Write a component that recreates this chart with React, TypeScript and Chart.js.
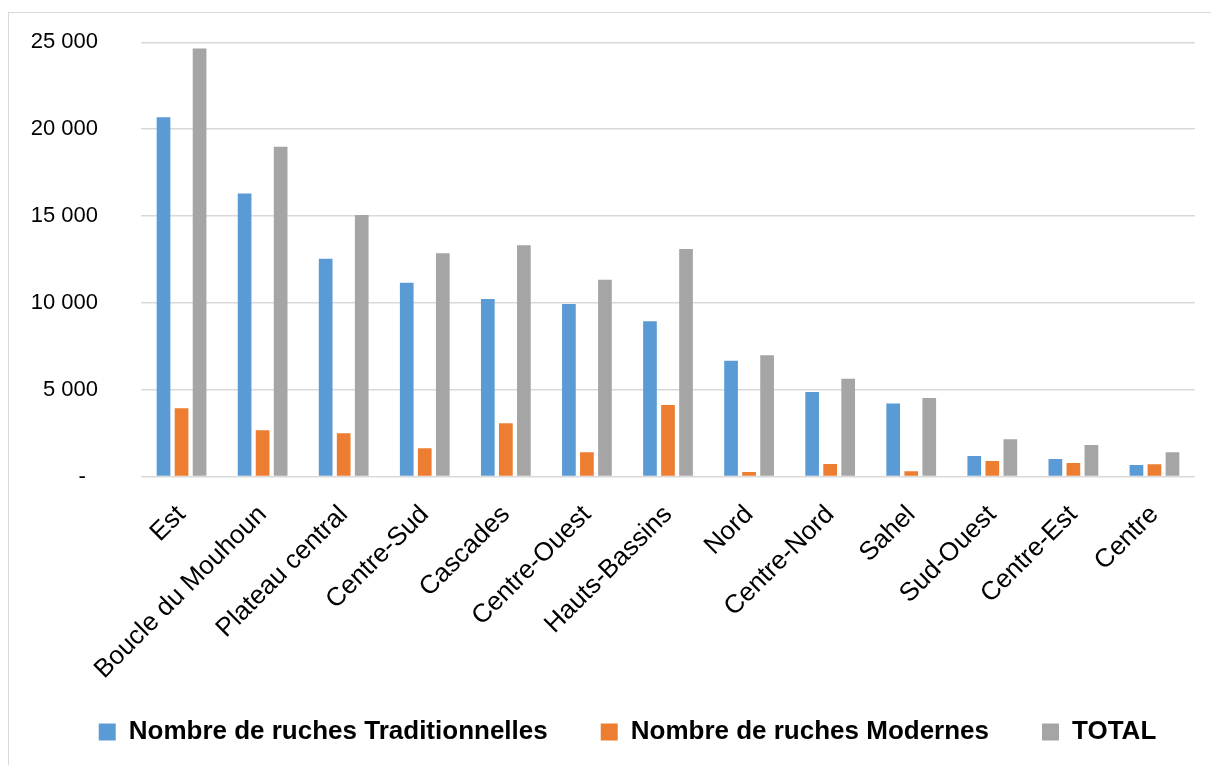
import React, { useEffect, useRef } from "react";
import { Chart, registerables } from "chart.js";

Chart.register(...registerables);

const categories = [
  "Est",
  "Boucle du Mouhoun",
  "Plateau central",
  "Centre-Sud",
  "Cascades",
  "Centre-Ouest",
  "Hauts-Bassins",
  "Nord",
  "Centre-Nord",
  "Sahel",
  "Sud-Ouest",
  "Centre-Est",
  "Centre",
];

const traditionnelles = [20680, 16300, 12540, 11150, 10220, 9930, 8940, 6670, 4870, 4210, 1180, 1010, 660];
const modernes = [3930, 2660, 2490, 1620, 3060, 1390, 4120, 260, 720, 300, 890, 780, 700];
const total = [24650, 18990, 15060, 12850, 13310, 11330, 13100, 6980, 5630, 4520, 2140, 1810, 1390];

const seriesLabels = [
  "Nombre de ruches Traditionnelles",
  "Nombre de ruches Modernes",
  "TOTAL",
];
const seriesColors = ["#5B9BD5", "#ED7D31", "#A5A5A5"];

const yMin = 0;
const yMax = 25000;
const yStep = 5000;

const formatTick = (v: number): string => {
  if (v === 0) return "-\u00a0\u00a0";
  const s = Math.round(v).toString();
  return s.replace(/\B(?=(\d{3})+(?!\d))/g, " ");
};

const FONT = '"Liberation Sans", Arial, sans-serif';

const legendShift = {
  id: "legendShift",
  afterLayout(chart: any) {
    const lg = chart.legend;
    if (lg) {
      lg.left += 20;
      lg.right += 20;
      lg.top -= 25;
      lg.bottom -= 25;
    }
  },
};

export default function App() {
  const canvasRef = useRef<HTMLCanvasElement | null>(null);

  useEffect(() => {
    if (!canvasRef.current) return;
    const values = [traditionnelles, modernes, total];
    const chart = new Chart(canvasRef.current, {
      type: "bar",
      data: {
        labels: categories,
        datasets: values.map((d, i) => ({
          label: seriesLabels[i],
          data: d,
          backgroundColor: seriesColors[i],
          borderWidth: 0,
          categoryPercentage: 0.667,
          barPercentage: 0.76,
        })),
      },
      plugins: [legendShift],
      options: {
        animation: false,
        responsive: true,
        maintainAspectRatio: false,
        layout: { padding: { left: 20, right: 16, top: 42.3, bottom: -15 } },
        plugins: {
          tooltip: { enabled: false },
          legend: {
            position: "bottom",
            align: "center",
            labels: {
              boxWidth: 17,
              boxHeight: 17,
              padding: 53,
              color: "#000",
              font: { family: FONT, size: 26, weight: "bold" },
            },
          },
        },
        scales: {
          x: {
            grid: { display: false, drawTicks: false },
            border: { display: false },
            ticks: {
              autoSkip: false,
              minRotation: 45,
              maxRotation: 45,
              padding: 23,
              color: "#000",
              font: { family: FONT, size: 26 },
            },
            afterFit: (s: any) => {
              s.height = 214.5;
            },
          },
          y: {
            min: yMin,
            max: yMax,
            border: { display: false },
            grid: { color: "#d9d9d9", lineWidth: 1.5, drawTicks: false },
            ticks: {
              stepSize: yStep,
              padding: 43,
              color: "#000",
              font: { family: FONT, size: 22 },
              callback: (v: any) => formatTick(Number(v)),
            },
            afterFit: (s: any) => {
              s.width = 121;
              s.paddingTop = 0;
              s.paddingBottom = 0;
            },
          },
        },
      },
    });
    return () => chart.destroy();
  }, []);

  return (
    <>
      <div
        style={{
          position: "fixed",
          left: 8,
          top: 12,
          width: 1400,
          height: 1000,
          borderLeft: "1.5px solid #d9d9d9",
          borderTop: "1.5px solid #d9d9d9",
          pointerEvents: "none",
        }}
      />
      <div style={{ position: "fixed", left: 0, top: 0, width: 1211, height: 765 }}>
        <canvas ref={canvasRef} />
      </div>
    </>
  );
}
